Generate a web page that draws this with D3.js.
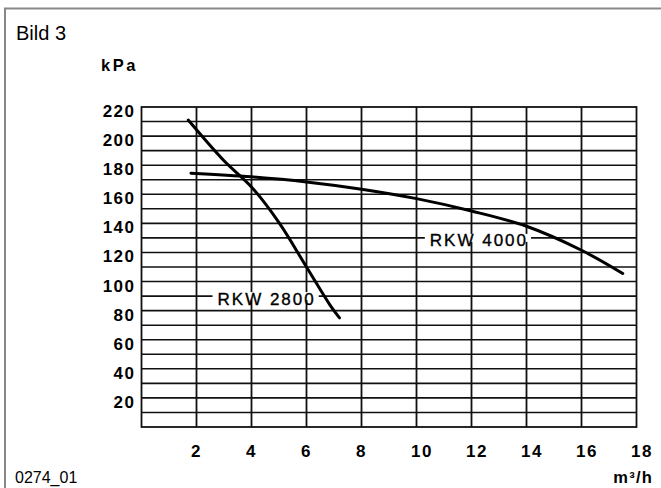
<!DOCTYPE html>
<html>
<head>
<meta charset="utf-8">
<script src="https://cdn.jsdelivr.net/npm/d3@7"></script>
<style>
  body { margin: 0; background: #fff; }
  svg { display: block; font-family: 'Liberation Sans', Arial, Helvetica, sans-serif; }
</style>
</head>
<body>
<div id="chart"></div>
<script>
// values (flow in m³/h, pressure in kPa)
const rkw2800Flow = [1.7, 3.0, 4.0, 5.0, 6.0, 6.85, 7.2];
const rkw2800Kpa = [211, 183, 165, 140.5, 110, 84, 75];

const rkw4000Flow = [1.8, 4, 6, 8, 10, 12, 14, 16, 17.5];
const rkw4000Kpa = [174.5, 172, 168.5, 163.5, 157, 148.5, 138, 121.5, 105.5];

const curveNames = ['RKW 2800', 'RKW 4000'];
// where the labels sit on the grid (flow, kPa)
const labelFlow = [4.55, 12.27];
const labelKpa = [90, 130];

const xTicks = [2, 4, 6, 8, 10, 12, 14, 16, 18];
const yTicks = [20, 40, 60, 80, 100, 120, 140, 160, 180, 200, 220];
const xGrid = d3.range(2, 18, 2);
const yGrid = d3.range(10, 220, 10);

const width = 661;
const height = 488;
const margins = {left: 141.5, top: 107, right: 24.5, bottom: 61};
const innerW = width - margins.left - margins.right;
const innerH = height - margins.top - margins.bottom;

const svg = d3.select('#chart')
  .append('svg')
  .attr('width', width)
  .attr('height', height);

// grey frame of the page (top and left edge only)
svg.append('path')
  .attr('d', `M5,${height} V8.5 H${width}`)
  .attr('fill', 'none')
  .attr('stroke', '#888')
  .attr('stroke-width', 2);

svg.append('text')
  .attr('x', 16)
  .attr('y', 40)
  .attr('font-size', 20)
  .text('Bild 3');

svg.append('text')
  .attr('x', 101)
  .attr('y', 71)
  .attr('font-size', 16.5)
  .attr('font-weight', 'bold')
  .attr('letter-spacing', 2.5)
  .text('kPa');

svg.append('text')
  .attr('x', 15)
  .attr('y', 483)
  .attr('font-size', 16)
  .text('0274_01');

svg.append('text')
  .attr('x', 653)
  .attr('y', 483)
  .attr('text-anchor', 'end')
  .attr('font-size', 16.5)
  .attr('font-weight', 'bold')
  .attr('letter-spacing', 1.2)
  .text('m³/h');

const g = svg.append('g')
  .attr('transform', `translate(${margins.left},${margins.top})`);

const x = d3.scaleLinear().domain([0, 18]).range([0, innerW]);
const y = d3.scaleLinear().domain([0, 220]).range([innerH, 0]);

// grid
const grid = g.append('g').attr('stroke', '#111').attr('fill', 'none');
grid.selectAll('.hline')
  .data(yGrid)
  .join('line')
  .attr('x1', 0)
  .attr('x2', innerW)
  .attr('y1', (d) => y(d))
  .attr('y2', (d) => y(d))
  .attr('stroke-width', 1.6);
grid.selectAll('.vline')
  .data(xGrid)
  .join('line')
  .attr('y1', 0)
  .attr('y2', innerH)
  .attr('x1', (d) => x(d))
  .attr('x2', (d) => x(d))
  .attr('stroke-width', 1.8);
grid.append('rect')
  .attr('width', innerW)
  .attr('height', innerH)
  .attr('stroke-width', 1.8);

// axes (labels only)
const yAxis = g.append('g')
  .call(d3.axisLeft(y).tickValues(yTicks).tickSize(0).tickPadding(6));
const xAxis = g.append('g')
  .attr('transform', `translate(0,${innerH})`)
  .call(d3.axisBottom(x).tickValues(xTicks).tickSize(0));

[xAxis, yAxis].forEach((ax) => {
  ax.select('.domain').remove();
  ax.selectAll('.tick text')
    .attr('fill', '#000')
    .attr('font-family', null)
    .attr('font-size', 17)
    .attr('font-weight', 'bold')
    .attr('letter-spacing', 1.5);
});
yAxis.selectAll('.tick text').attr('dy', 9.5);
xAxis.selectAll('.tick text')
  .attr('text-anchor', 'start')
  .attr('x', -6)
  .attr('y', 30)
  .attr('dy', 0);

// curves
const line = d3.line()
  .curve(d3.curveCatmullRom)
  .x((d) => x(d[0]))
  .y((d) => y(d[1]));

const series = [
  d3.zip(rkw2800Flow, rkw2800Kpa),
  d3.zip(rkw4000Flow, rkw4000Kpa),
];

g.selectAll('.curve')
  .data(series)
  .join('path')
  .attr('class', 'curve')
  .attr('d', line)
  .attr('fill', 'none')
  .attr('stroke', '#000')
  .attr('stroke-width', 3)
  .attr('stroke-linecap', 'round');

// curve names sit on a grid line with a white box behind them
curveNames.forEach((name, i) => {
  const lg = g.append('g')
    .attr('transform', `translate(${x(labelFlow[i])},${y(labelKpa[i])})`);
  const bg = lg.append('rect').attr('fill', '#fff');
  const t = lg.append('text')
    .attr('text-anchor', 'middle')
    .attr('dy', 8.5)
    .attr('font-size', 17)
    .attr('letter-spacing', 2)
    .attr('stroke', '#000')
    .attr('stroke-width', 0.35)
    .text(name);
  const bb = t.node().getBBox();
  bg.attr('x', bb.x - 5)
    .attr('y', -4)
    .attr('width', bb.width + 8)
    .attr('height', 8);
});
</script>
</body>
</html>
